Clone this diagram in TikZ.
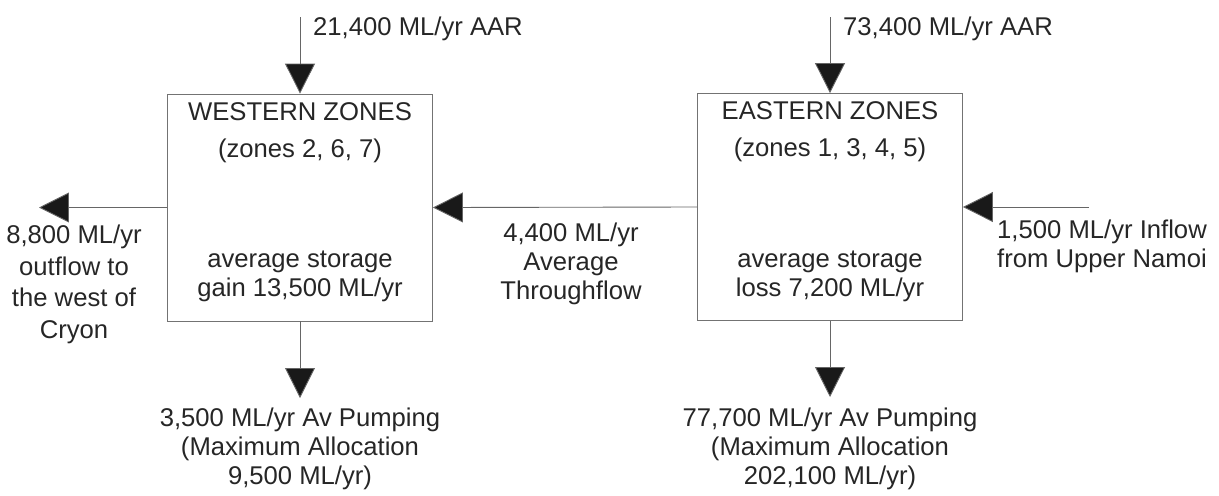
\documentclass[tikz,border=0pt]{standalone}
\usepackage{fontspec}
\setmainfont{Liberation Sans}
\usetikzlibrary{arrows.meta}
\tikzset{
	zonebox/.style={draw=black!55, line width=0.5pt, minimum width=5.3cm, minimum height=4.54cm},
	lbl/.style={align=center, text=black!85, font=\fontsize{14.6pt}{16.6pt}\selectfont},
	flow/.style={draw=black!60, line width=0.5pt, -{Triangle[length=6mm, width=6mm, fill=black!90]}}
}
\begin{document}
\begin{tikzpicture}[x=0.02cm, y=-0.02cm]
	\useasboundingbox (0,0) rectangle (1219,495);
	% the two zone boxes
	\node[zonebox] (west) at (300,207.5) {};
	\node[zonebox] (east) at (830,207) {};
	% free ends of the flows
	\coordinate (wtop) at (300,17);
	\coordinate (etop) at (830,17);
	\coordinate (wout) at (39,207.5);
	\coordinate (ein) at (1089,207);
	\coordinate (wpump) at (300,398);
	\coordinate (epump) at (830,397);
	\draw[flow] (wtop) -- (west.north);
	\draw[flow] (etop) -- (east.north);
	\draw[flow] (west.west) -- (wout);
	\draw[flow] (east.west) -- (west.east);
	\draw[flow] (ein) -- (east.east);
	\draw[flow] (west.south) -- (wpump);
	\draw[flow] (east.south) -- (epump);
	% labels
	\node[lbl, anchor=west] (wrech) at (307,29) {21,400 ML/yr AAR};
	\node[lbl, anchor=west] (erech) at (837,29) {73,400 ML/yr AAR};
	\node[lbl] (wtitle) at (300,133) {WESTERN ZONES\\[1.6mm](zones 2, 6, 7)};
	\node[lbl] (etitle) at (830,132) {EASTERN ZONES\\[1.6mm](zones 1, 3, 4, 5)};
	\node[lbl] (wstore) at (300,276.5) {average storage\\gain 13,500 ML/yr};
	\node[lbl] (estore) at (830,276) {average storage\\loss 7,200 ML/yr};
	\node[lbl, font=\fontsize{14.6pt}{18pt}\selectfont] (outflow) at (74,284.5) {8,800 ML/yr\\outflow to\\the west of\\Cryon};
	\node[lbl] (through) at (571,264) {4,400 ML/yr\\Average\\Throughflow};
	\node[lbl] (inflow) at (1102,246) {1,500 ML/yr Inflow\\from Upper Namoi};
	\node[lbl] (wpumplbl) at (300,449) {3,500 ML/yr Av Pumping\\(Maximum Allocation\\9,500 ML/yr)};
	\node[lbl] (epumplbl) at (830,449) {77,700 ML/yr Av Pumping\\(Maximum Allocation\\202,100 ML/yr)};
\end{tikzpicture}
\end{document}
